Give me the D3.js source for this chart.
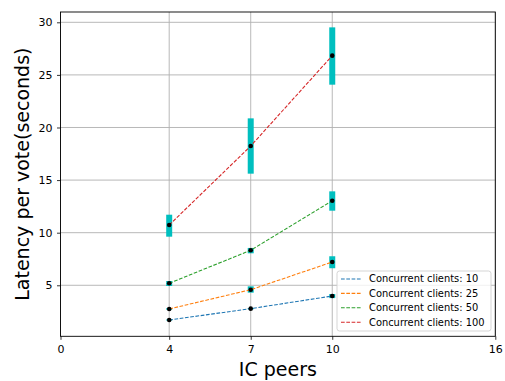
<!DOCTYPE html>
<html>
<head>
<meta charset="utf-8">
<script src="https://cdn.jsdelivr.net/npm/d3@7"></script>
<style>
  html, body { margin: 0; padding: 0; background: #fff; }
  svg { display: block; font-family: "DejaVu Sans", sans-serif; }
</style>
</head>
<body>
<div id="chart"></div>
<script>
const peers = [4, 7, 10];
const seriesNames = ["Concurrent clients: 10", "Concurrent clients: 25", "Concurrent clients: 50", "Concurrent clients: 100"];
const seriesColors = ["#1f77b4", "#ff7f0e", "#2ca02c", "#d62728"];
const meanValues = [
  [1.70, 2.78, 3.98],
  [2.75, 4.58, 7.21],
  [5.19, 8.33, 13.04],
  [10.73, 18.24, 26.83]
];
const lowValues = [
  [1.65, 2.72, 3.78],
  [2.68, 4.30, 6.62],
  [4.93, 8.04, 12.09],
  [9.62, 15.61, 24.07]
];
const highValues = [
  [1.75, 2.84, 4.17],
  [2.82, 4.90, 7.76],
  [5.41, 8.55, 13.93],
  [11.71, 20.87, 29.52]
];
const xTicks = [0, 4, 7, 10, 16];
const yTicks = [5, 10, 15, 20, 25, 30];
const xLabel = "IC peers";
const yLabel = "Latency per vote(seconds)";

const W = 505, H = 381;
const margin = {left: 60.5, right: 505 - 495.3, top: 12, bottom: 381 - 336.3};
const svg = d3.select("#chart").append("svg").attr("width", W).attr("height", H);

const x = d3.scaleLinear().domain([0, 16]).range([margin.left, W - margin.right]);
const y = d3.scaleLinear().domain([0.15, 30.98]).range([H - margin.bottom, margin.top]);

// grid
const grid = svg.append("g");
xTicks.forEach(t => grid.append("line")
  .attr("x1", x(t)).attr("x2", x(t)).attr("y1", y.range()[0]).attr("y2", y.range()[1])
  .attr("stroke", "#b0b0b0").attr("stroke-width", 0.9));
yTicks.forEach(t => grid.append("line")
  .attr("x1", x.range()[0]).attr("x2", x.range()[1]).attr("y1", y(t)).attr("y2", y(t))
  .attr("stroke", "#b0b0b0").attr("stroke-width", 0.9));

// axes
const xAxis = d3.axisBottom(x).tickValues(xTicks).tickSize(3.5).tickPadding(5.5).tickFormat(d3.format("d"));
const yAxis = d3.axisLeft(y).tickValues(yTicks).tickSize(3.5).tickPadding(4.5).tickFormat(d3.format("d"));
const gx = svg.append("g").attr("transform", `translate(0,${y.range()[0]})`).call(xAxis);
const gy = svg.append("g").attr("transform", `translate(${x.range()[0]},0)`).call(yAxis);
[gx, gy].forEach(g => {
  g.select(".domain").remove();
  g.selectAll("text").attr("font-size", 11).attr("fill", "#000").attr("font-family", "DejaVu Sans");
  g.selectAll("line").attr("stroke", "#000").attr("stroke-width", 0.8);
});

// error bars
const eb = svg.append("g");
meanValues.forEach((vals, si) => {
  peers.forEach((p, i) => {
    eb.append("line")
      .attr("x1", x(p)).attr("x2", x(p))
      .attr("y1", y(lowValues[si][i])).attr("y2", y(highValues[si][i]))
      .attr("stroke", "#00bfbf").attr("stroke-width", 6);
  });
});

// lines
const line = d3.line().x((d, i) => x(peers[i])).y(d => y(d));
meanValues.forEach((vals, si) => {
  svg.append("path").attr("d", line(vals))
    .attr("fill", "none").attr("stroke", seriesColors[si])
    .attr("stroke-width", 1.1).attr("stroke-dasharray", "3.7,1.6");
});

// markers
meanValues.forEach((vals, si) => {
  svg.append("g").selectAll("circle").data(vals).join("circle")
    .attr("cx", (d, i) => x(peers[i])).attr("cy", d => y(d)).attr("r", 2.3)
    .attr("fill", "#000");
});

// frame
svg.append("rect")
  .attr("x", x.range()[0]).attr("y", y.range()[1])
  .attr("width", x.range()[1] - x.range()[0]).attr("height", y.range()[0] - y.range()[1])
  .attr("fill", "none").attr("stroke", "#000").attr("stroke-width", 0.9);

// axis labels
svg.append("text").attr("x", (x.range()[0] + x.range()[1]) / 2).attr("y", 375.5)
  .attr("text-anchor", "middle").attr("font-size", 19).text(xLabel);
svg.append("text")
  .attr("transform", `translate(28.5,${(y.range()[0] + y.range()[1]) / 2}) rotate(-90)`)
  .attr("text-anchor", "middle").attr("font-size", 19).text(yLabel);

// legend
const lg = svg.append("g");
lg.append("rect").attr("x", 337).attr("y", 271).attr("width", 154).attr("height", 60)
  .attr("rx", 2.5).attr("fill", "#fff").attr("fill-opacity", 0.8)
  .attr("stroke", "#d0d0d0").attr("stroke-width", 0.9);
seriesNames.forEach((name, i) => {
  const yy = 279 + i * 14.4;
  lg.append("line").attr("x1", 341).attr("x2", 361).attr("y1", yy).attr("y2", yy)
    .attr("stroke", seriesColors[i]).attr("stroke-width", 1.1).attr("stroke-dasharray", "3.7,1.6");
  lg.append("text").attr("x", 369).attr("y", yy).attr("dy", "0.35em")
    .attr("font-size", 9.9).attr("fill", "#000").text(name);
});
</script>
</body>
</html>
